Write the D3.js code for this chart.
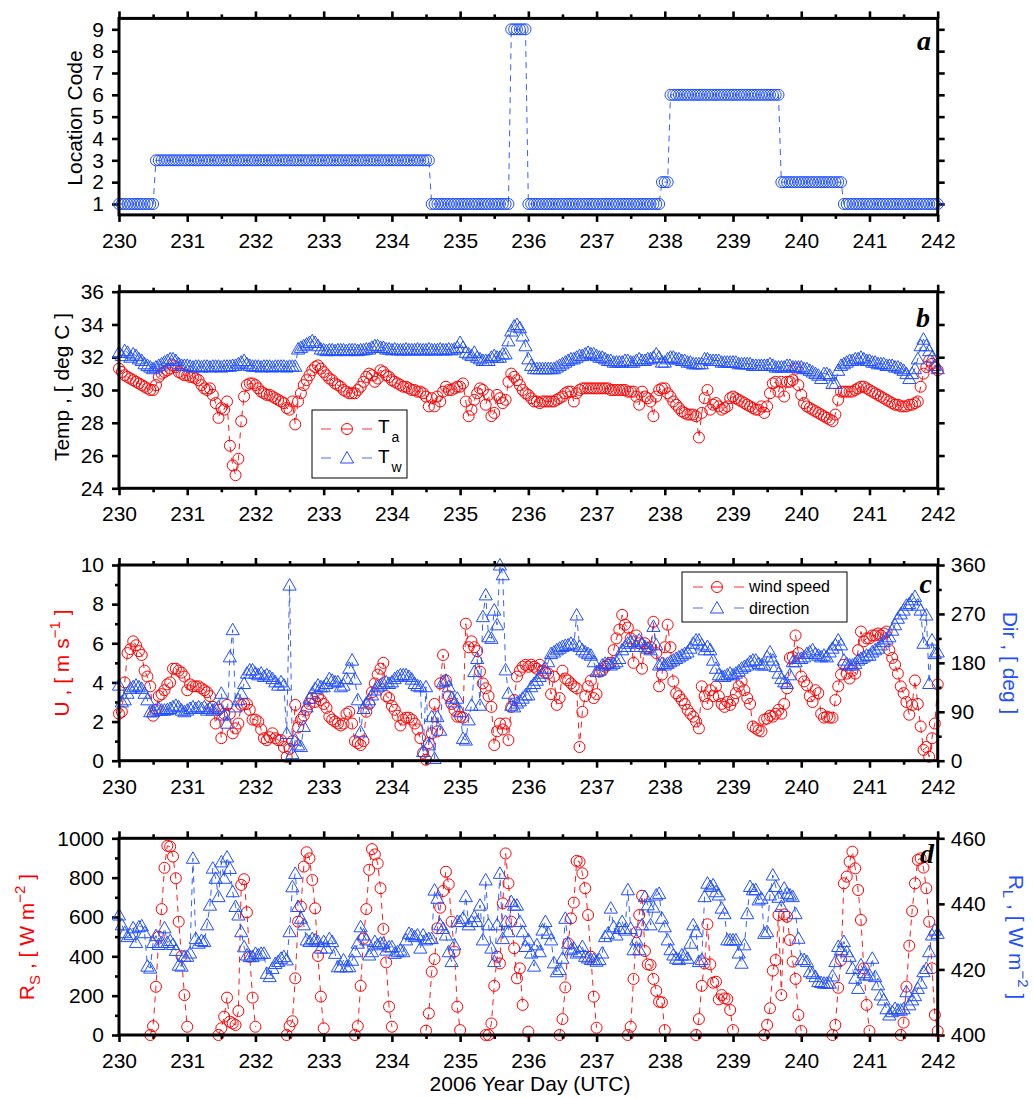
<!DOCTYPE html>
<html>
<head>
<meta charset="utf-8">
<script src="https://cdn.jsdelivr.net/npm/d3@7/dist/d3.min.js"></script>
<style>
  body { margin: 0; background: #fff; }
  svg { display: block; }
  text { font-family: "Liberation Sans", Arial, Helvetica, sans-serif; }
  text.panel-letter { font-family: "Liberation Serif", "Times New Roman", serif; }
</style>
</head>
<body>
<svg id="fig" width="1033" height="1098"></svg>
<script>
// ---------------------------------------------------------------
// Hourly ship observations, year days 230 - 242 (2006, UTC)
// ---------------------------------------------------------------
const dayFirst = 230;
const samplesPerDay = 24;
const _ = null; // no measurement

const dayTicks   = [230, 231, 232, 233, 234, 235, 236, 237, 238, 239, 240, 241, 242];
const locTicks   = [1, 2, 3, 4, 5, 6, 7, 8, 9];
const tempTicks  = [24, 26, 28, 30, 32, 34, 36];
const speedTicks = [0, 2, 4, 6, 8, 10];
const dirTicks   = [0, 90, 180, 270, 360];
const rsTicks    = [0, 200, 400, 600, 800, 1000];
const rlTicks    = [400, 420, 440, 460];

// location code: first hour (from day 230.0) of each stay and its code
const locRunFirstHour = [0, 13, 110, 138, 144, 191, 194, 233, 255];
const locRunCode      = [1, 3, 1, 9, 1, 2, 6, 2, 1];

// air temperature (deg C)
const airTemp = [
  31.3,31.1,30.9,30.8,30.7,30.6,30.5,30.4,30.3,30.2,30.1,30.0,30.0,30.3,30.8,31.0,31.1,31.2,31.3,31.5,31.4,31.1,31.0,30.9,
  30.9,30.8,30.8,30.7,30.6,30.3,30.1,30.0,30.1,29.7,29.2,28.3,28.9,28.8,29.3,26.6,25.4,24.8,25.8,28.1,29.6,30.3,30.4,30.4,
  30.3,30.1,29.9,29.8,29.7,29.7,29.6,29.5,29.4,29.3,29.2,28.9,28.8,29.3,27.9,29.3,29.8,30.3,30.6,30.9,31.2,31.4,31.5,31.3,
  31.1,30.9,30.7,30.6,30.4,30.3,30.2,30.0,29.9,29.8,29.8,29.8,30.0,30.2,30.5,30.8,31.0,30.9,30.5,30.7,31.2,31.1,30.9,30.8,
  30.6,30.5,30.4,30.3,30.2,30.2,30.1,30.0,30.0,29.9,29.9,29.8,29.6,29.0,29.5,29.0,29.6,29.3,29.9,30.2,30.0,30.0,30.1,30.2,
  30.2,30.4,29.3,28.4,28.8,29.4,29.8,30.1,30.0,29.1,29.7,28.4,28.6,29.7,29.5,29.2,29.4,30.5,31.0,30.8,30.6,30.3,30.0,29.8,
  29.7,29.5,29.3,29.3,29.2,29.3,29.3,29.3,29.3,29.3,29.4,29.5,29.6,29.8,29.9,29.9,29.3,29.8,30.0,30.1,30.1,30.1,30.1,30.1,
  30.1,30.1,30.1,30.1,30.1,30.0,30.0,30.0,30.0,30.0,30.0,29.9,29.9,29.9,29.6,29.1,29.9,29.6,29.5,29.3,28.4,29.6,30.0,30.1,
  30.1,29.8,29.6,29.3,29.1,28.9,28.7,28.6,28.5,28.5,28.5,28.4,27.1,28.6,29.5,30.0,28.8,29.1,29.2,29.0,28.8,28.9,29.0,29.5,
  29.6,29.5,29.4,29.3,29.2,29.1,29.0,28.9,28.8,28.8,29.0,28.6,29.0,29.8,30.4,30.5,29.9,30.5,29.6,30.5,30.5,30.6,31.3,30.3,
  29.7,29.2,29.0,28.9,28.8,28.7,28.6,28.5,28.4,28.3,28.2,28.1,28.5,29.4,29.9,29.9,29.9,29.9,29.9,30.0,30.1,30.2,30.2,30.1,
  30.0,29.9,29.8,29.7,29.6,29.5,29.4,29.3,29.2,29.1,29.1,29.0,29.0,29.0,29.1,29.1,29.2,29.3,30.2,31.0,31.4,31.8,31.6,31.4,
  31.2
];

// water temperature (deg C)
const waterTemp = [
  32.3,32.1,32.4,32.3,32.0,32.2,32.1,31.9,31.8,31.6,31.5,31.4,31.3,31.4,31.5,31.6,31.7,31.8,31.9,31.9,31.8,31.6,31.5,31.5,
  31.5,31.45,31.4,31.45,31.45,31.4,31.45,31.45,31.4,31.45,31.45,31.45,31.4,31.45,31.45,31.45,31.5,31.5,31.6,31.7,31.8,31.6,31.5,31.45,
  31.45,31.45,31.4,31.45,31.45,31.45,31.4,31.45,31.45,31.45,31.45,31.4,31.45,31.45,31.45,32.5,32.6,32.7,32.8,32.9,33.0,32.9,32.7,32.5,
  32.45,32.4,32.45,32.45,32.4,32.45,32.45,32.45,32.4,32.45,32.45,32.45,32.4,32.45,32.45,32.5,32.5,32.6,32.7,32.7,32.6,32.6,32.5,32.5,
  32.45,32.5,32.45,32.45,32.45,32.5,32.45,32.45,32.45,32.5,32.45,32.45,32.45,32.5,32.45,32.45,32.45,32.5,32.45,32.45,32.5,32.45,32.5,32.6,
  32.9,32.6,32.3,32.2,32.1,32.3,32.0,31.9,31.8,31.8,31.8,32.0,32.1,32.0,32.0,32.2,32.2,33.0,33.6,33.9,34.0,33.8,33.3,32.7,
  31.9,31.5,31.3,31.3,31.3,31.3,31.3,31.3,31.3,31.3,31.4,31.5,31.6,31.7,31.8,31.9,31.9,32.0,32.1,32.1,32.2,32.3,32.2,32.2,
  32.1,32.0,32.0,31.9,31.8,31.8,31.7,31.7,31.7,31.7,31.8,31.8,31.7,31.7,31.8,31.9,31.8,31.8,31.9,31.9,32.0,32.2,32.0,31.7,
  31.7,31.9,32.0,32.0,31.9,31.9,31.8,31.8,31.7,31.7,31.6,31.6,31.6,31.6,31.9,31.9,31.8,31.8,31.8,31.8,31.7,31.7,31.7,31.7,
  31.7,31.7,31.6,31.6,31.6,31.6,31.6,31.5,31.5,31.5,31.5,31.5,31.5,31.6,31.5,31.4,31.4,31.4,31.4,31.5,31.5,31.4,31.4,31.4,
  31.4,31.3,31.3,31.2,31.1,31.0,30.9,30.7,31.0,31.0,30.9,30.4,30.4,31.2,31.5,31.6,31.7,31.8,31.8,31.9,31.9,32.0,31.9,31.8,
  31.8,31.7,31.7,31.6,31.6,31.6,31.5,31.5,31.5,31.4,31.4,31.3,31.2,31.0,30.7,31.0,31.3,31.9,32.7,33.1,32.7,32.4,32.0,31.5,
  31.3
];

// wind speed (m/s)
const windSpeed = [
  2.4,2.5,4.0,5.5,5.7,6.1,5.9,5.6,5.4,4.6,4.3,3.8,2.3,2.6,3.3,3.4,3.6,3.9,4.0,4.7,4.7,4.6,4.5,4.3,
  3.6,3.9,3.8,3.8,3.8,3.7,3.6,3.5,3.3,2.75,1.9,2.6,1.15,2.4,2.85,2.4,1.4,1.65,1.9,2.85,2.9,2.9,2.6,2.1,
  2.1,2.0,1.6,1.15,1.05,1.2,1.4,1.15,1.05,1.05,0.7,0.2,0.6,1.0,2.85,1.7,2.1,2.3,2.6,2.9,3.2,3.0,3.3,3.1,
  2.9,2.7,2.25,2.1,2.0,1.9,1.8,1.9,2.4,2.5,1.9,1.0,0.9,0.8,1.0,2.5,2.9,3.5,3.95,4.4,4.7,5.0,3.3,3.2,
  2.8,2.6,2.3,1.8,2.1,2.2,2.2,2.1,1.9,1.6,1.15,0.4,0.05,0.9,1.4,2.9,1.5,3.95,5.4,4.1,3.3,2.9,2.6,2.25,
  2.25,2.2,7.0,5.8,6.1,5.8,5.6,4.55,3.95,3.7,3.3,2.75,0.8,1.5,1.9,1.6,1.9,1.05,2.75,3.1,4.3,4.6,4.8,4.9,
  4.8,4.9,4.8,4.7,4.9,4.6,4.5,4.45,3.4,4.3,2.85,3.2,4.6,4.2,4.1,3.95,3.8,3.7,0.7,2.5,3.3,3.8,4.1,3.2,
  3.4,4.55,4.6,4.8,4.9,5.0,5.65,6.25,6.7,7.45,6.95,6.8,6.25,5.0,6.4,6.0,4.7,6.0,5.75,5.8,7.1,5.5,3.8,4.4,
  5.8,6.95,5.8,4.05,3.45,3.3,3.1,2.9,2.6,2.4,2.25,2.0,1.65,3.8,3.3,2.9,3.6,3.3,3.8,3.3,2.9,2.75,3.0,2.85,
  3.1,3.45,3.8,4.05,3.6,3.2,2.9,1.75,1.65,1.55,1.5,2.1,2.15,2.3,2.25,2.4,2.6,2.4,2.9,3.7,5.25,5.3,6.4,5.5,
  4.3,4.05,3.85,3.3,3.0,3.6,3.45,2.4,2.2,2.25,2.2,2.2,3.1,3.8,4.4,4.9,4.45,4.2,4.6,4.45,5.65,6.6,6.1,6.25,
  6.25,6.4,6.4,6.5,6.4,6.5,6.6,5.65,5.25,4.9,4.45,3.8,3.45,3.0,2.35,2.85,4.1,2.9,1.75,0.55,0.7,0.2,1.15,1.9,
  3.9
];

// wind direction (deg)
const windDir = [
  139,108,112,124,133,136,139,136,133,124,112,90,90,93,96,93,93,94,96,99,102,99,93,90,
  93,96,99,96,99,96,99,93,96,93,96,99,124,84,69,191,241,99,112,124,142,161,167,167,
  161,158,161,155,158,155,151,145,139,145,139,50,323,13,38,29,26,63,99,115,124,133,139,136,
  136,142,151,148,145,145,136,139,151,170,185,150,112,53,96,106,112,121,130,136,139,142,145,142,
  145,151,155,158,158,158,155,150,142,138,136,17,136,29,81,4,81,56,145,148,136,115,108,115,
  90,41,38,75,102,164,188,102,265,305,228,225,277,250,360,342,167,124,102,99,106,110,115,121,
  121,136,142,148,155,161,170,182,197,200,204,207,210,212,213,216,213,268,210,204,200,197,194,182,
  164,167,176,179,179,176,179,182,188,204,210,216,219,219,210,222,216,210,207,204,247,213,176,179,
  176,179,182,185,188,191,194,197,200,207,216,222,222,213,204,210,204,185,170,158,155,155,158,161,
  158,161,165,170,173,176,182,185,185,179,176,176,191,200,185,173,161,151,145,142,158,182,182,188,
  188,191,197,200,204,197,194,191,194,191,200,207,213,222,213,185,179,176,176,179,185,188,191,194,
  194,200,204,207,213,219,224,228,240,250,262,270,277,286,289,296,302,286,277,216,268,142,222,197,
  200
];

// shortwave radiation (W m^-2), daylight hours only
const shortwave = [
  _,_,_,_,_,_,_,_,_,_,_,0,45,245,500,640,850,962,958,907,797,576,400,203,
  42,_,_,_,_,_,_,_,_,_,_,0,34,93,190,68,59,51,122,763,792,624,398,190,
  42,_,_,_,_,_,_,_,_,_,_,0,45,70,288,576,653,856,929,898,788,644,402,195,
  34,_,_,_,_,_,_,_,_,_,_,0,45,250,490,640,840,945,918,872,746,539,369,144,
  42,_,_,_,_,_,_,_,_,_,_,_,22,110,322,386,542,647,732,830,766,576,424,144,
  25,_,_,_,_,_,_,_,_,0,0,59,250,398,364,669,923,771,576,441,288,339,153,_,
  17,_,_,_,_,_,_,_,_,_,_,0,81,242,466,593,673,885,881,822,746,610,398,195,
  37,_,_,_,_,_,_,_,_,_,_,0,42,285,522,610,708,427,359,356,285,224,169,166,
  25,_,_,_,_,_,_,_,_,_,_,0,81,250,364,563,359,266,271,181,203,186,183,127,
  25,_,_,_,_,_,_,_,_,_,_,0,51,136,327,381,610,203,613,601,483,373,285,102,
  20,_,_,_,_,_,_,_,_,_,_,0,51,240,381,771,805,881,932,847,737,585,339,153,
  20,_,_,_,_,_,_,_,_,_,_,0,63,246,454,630,771,890,898,851,746,576,339,102,
  20
];

// longwave radiation (W m^-2)
const longwave = [
  436.6,433.6,431.2,430,430.6,432.7,428.2,433,433.3,431.2,421,420.4,428.2,430.3,427.6,428.2,432.7,428.2,428.8,427.6,425.8,421.3,421,424,
  424,425,453.9,429.4,428,428.8,428.5,433.6,439.6,450.9,447.8,442.2,452.8,447.8,454.3,450.8,443.7,439.2,436.6,431.5,426.9,424.4,423.9,423.9,
  424.9,424.4,424.9,424.9,418.8,417.8,420.3,421.8,422.4,423.4,423.9,422.9,431.5,445.2,449.3,439.2,435.6,433.6,429,428.5,429.4,429,428.5,426.5,
  428.5,426.5,429.4,428.5,424.9,420.8,420.8,422.9,420.8,420.8,422.8,425.4,428,433,430.5,429,424.4,425.4,428.5,427.5,428,428,425.9,426.9,
  426.9,424.9,425.4,425.9,425.4,429,431,430.6,430,430.5,426.5,430.5,429,429.4,429.4,444.2,441.7,433.6,432.5,430.5,425.4,422.4,427.5,434.6,
  434.6,435.6,442.2,433.6,434.6,436.1,434.6,439.6,429,447.3,433.6,426.5,422.4,433.6,449.3,429.4,434.6,431.5,440.7,439.6,439.6,434.6,431.5,427,
  429,425,421,427.5,425.4,432,434.6,431,429,422,419.3,420,423.4,435.6,428,426,426.5,425,425.4,427,424,423.5,423,423,
  422.5,423,425,430,431,438.7,433,430.5,432.5,434.6,432,444.3,432.5,426,429,426,433.6,442.2,439.7,433.6,439,442.7,443.2,435.6,
  433,429,426,424.4,423.4,423,424.4,424.4,423.4,428,433.6,431.5,422.4,423,442.2,446.3,445.3,445.8,443.7,442.7,438.7,437,429,429,
  429,429,425,421.9,427.5,437,445.3,444.3,444.3,441.2,441.7,431,431.5,442.7,448.8,445.3,442,439.2,444.8,443.2,442.7,442.2,437,429.5,
  423,423,422.4,419.3,418.8,417.8,416.3,416,415.8,415.8,415.8,418,422.4,427,426,428.5,425.4,424,420.3,417.3,414.2,421.4,419,418.3,
  418.3,423.4,417.8,415.3,412.2,410.7,408,406.1,407.1,408.1,407.6,407.6,408,413.2,409.2,410.7,412,414.2,415.8,419.3,420.3,425.4,430.5,432,
  431
];

// ---------------------------------------------------------------
const RED = "#ff0000";
const BLUE = "#1f4fff";
const FONT = 21;

const svg = d3.select("#fig");
const x = d3.scaleLinear().domain([dayTicks[0], dayTicks[dayTicks.length - 1]]).range([119, 937.7]);
const halfDays = dayTicks.slice(0, -1).map(d => d + 0.5);

const toSeries = vals => vals.map((v, i) => ({ t: dayFirst + i / samplesPerDay, v }));

// expand the location runs to one value per hour
const nHours = airTemp.length;
const locCode = [];
for (let h = 0; h < nHours; h++) {
  let k = 0;
  while (k + 1 < locRunFirstHour.length && locRunFirstHour[k + 1] <= h) k++;
  locCode.push(locRunCode[k]);
}

const triPath = "M0,-6.5L6.6,5L-6.6,5Z";

function styleAxis(g) {
  g.select(".domain").remove();
  g.selectAll(".tick line").attr("stroke", "#000").attr("stroke-width", 2.6);
  g.selectAll(".tick text").attr("fill", "#000").attr("font-size", FONT);
}

function panelFrame(y0, y1) {
  const g = svg.append("g");
  // top and bottom time axes, major and half-day ticks
  g.append("g").attr("transform", `translate(0,${y1})`)
    .call(d3.axisBottom(x).tickValues(dayTicks).tickSize(7).tickPadding(11).tickFormat(d3.format("d")))
    .call(styleAxis);
  g.append("g").attr("transform", `translate(0,${y1})`)
    .call(d3.axisBottom(x).tickValues(halfDays).tickSize(4).tickFormat(""))
    .call(styleAxis);
  g.append("g").attr("transform", `translate(0,${y0})`)
    .call(d3.axisTop(x).tickValues(dayTicks).tickSize(7).tickFormat(""))
    .call(styleAxis);
  g.append("g").attr("transform", `translate(0,${y0})`)
    .call(d3.axisTop(x).tickValues(halfDays).tickSize(4).tickFormat(""))
    .call(styleAxis);
  return g;
}

function leftAxis(scale, ticks, minor, labels) {
  const x0 = x.range()[0];
  svg.append("g").attr("transform", `translate(${x0},0)`)
    .call(d3.axisLeft(scale).tickValues(ticks).tickSize(7).tickPadding(8)
      .tickFormat(labels ? d3.format("d") : ""))
    .call(styleAxis);
  if (minor) svg.append("g").attr("transform", `translate(${x0},0)`)
    .call(d3.axisLeft(scale).tickValues(minor).tickSize(4).tickFormat(""))
    .call(styleAxis);
}

function rightAxis(scale, ticks, minor, labels) {
  const x1 = x.range()[1];
  svg.append("g").attr("transform", `translate(${x1},0)`)
    .call(d3.axisRight(scale).tickValues(ticks).tickSize(7).tickPadding(6)
      .tickFormat(labels ? d3.format("d") : ""))
    .call(styleAxis);
  if (minor) svg.append("g").attr("transform", `translate(${x1},0)`)
    .call(d3.axisRight(scale).tickValues(minor).tickSize(4).tickFormat(""))
    .call(styleAxis);
}

function box(y0, y1) {
  svg.append("rect").attr("x", x.range()[0]).attr("y", y0)
    .attr("width", x.range()[1] - x.range()[0]).attr("height", y1 - y0)
    .attr("fill", "none").attr("stroke", "#000").attr("stroke-width", 3);
}

function drawSeries(data, y, color, marker) {
  const g = svg.append("g");
  const line = d3.line().defined(d => d.v != null).x(d => x(d.t)).y(d => y(d.v));
  g.append("path").datum(data).attr("d", line)
    .attr("fill", "none").attr("stroke", color).attr("stroke-width", 1)
    .attr("stroke-dasharray", "6,5").attr("opacity", 0.9);
  const pts = data.filter(d => d.v != null);
  if (marker === "circle") {
    g.selectAll("circle").data(pts).join("circle")
      .attr("cx", d => x(d.t)).attr("cy", d => y(d.v)).attr("r", 5.5)
      .attr("fill", "none").attr("stroke", color).attr("stroke-width", 1);
  } else {
    g.selectAll("path.m").data(pts).join("path").attr("class", "m")
      .attr("d", triPath).attr("transform", d => `translate(${x(d.t)},${y(d.v)})`)
      .attr("fill", "none").attr("stroke", color).attr("stroke-width", 1);
  }
}

function panelLetter(letter, xr, yb) {
  svg.append("text").attr("class", "panel-letter")
    .attr("x", xr).attr("y", yb).attr("text-anchor", "end")
    .style("font-style", "italic").style("font-weight", "bold").attr("font-size", 28)
    .text(letter);
}

function vLabel(xb, yc, angle, color, parts) {
  const t = svg.append("text")
    .attr("transform", `translate(${xb},${yc}) rotate(${angle})`)
    .attr("text-anchor", "middle").attr("font-size", FONT).attr("fill", color);
  let shift = 0;
  parts.forEach(p => {
    const s = t.append("tspan").text(p.text);
    const target = p.sub ? 6 : p.sup ? -9 : 0;
    s.attr("dy", target - shift);
    if (p.sub || p.sup) s.attr("font-size", 15);
    shift = target;
  });
}

function legendRow(xs, yc, color, marker) {
  const [l0, l1, mx, r0, r1] = xs;
  svg.append("line").attr("x1", l0).attr("x2", l1).attr("y1", yc).attr("y2", yc)
    .attr("stroke", color).attr("stroke-width", 1).attr("opacity", 0.8);
  svg.append("line").attr("x1", r0).attr("x2", r1).attr("y1", yc).attr("y2", yc)
    .attr("stroke", color).attr("stroke-width", 1).attr("opacity", 0.8);
  if (marker === "circle") {
    svg.append("circle").attr("cx", mx).attr("cy", yc).attr("r", 5.5)
      .attr("fill", "none").attr("stroke", color).attr("stroke-width", 1);
    svg.append("line").attr("x1", mx - 5).attr("x2", mx + 5).attr("y1", yc).attr("y2", yc)
      .attr("stroke", color).attr("stroke-width", 1);
  } else {
    svg.append("path").attr("d", triPath).attr("transform", `translate(${mx},${yc})`)
      .attr("fill", "none").attr("stroke", color).attr("stroke-width", 1);
  }
}

// ---------------- panel a : location code ----------------
const yA = d3.scaleLinear().domain([0.5, 9.5]).range([214.9, 18.4]);
panelFrame(yA.range()[1], yA.range()[0]);
leftAxis(yA, locTicks, null, true);
rightAxis(yA, locTicks, null, false);
drawSeries(toSeries(locCode), yA, BLUE, "circle");
box(yA.range()[1], yA.range()[0]);
panelLetter("a", 931, 50);
vLabel(82, 118, -90, "#000", [{ text: "Location Code" }]);

// ---------------- panel b : temperatures ----------------
const yB = d3.scaleLinear().domain([24, 36]).range([488.3, 291.7]);
panelFrame(yB.range()[1], yB.range()[0]);
leftAxis(yB, tempTicks, null, true);
rightAxis(yB, tempTicks, null, false);
drawSeries(toSeries(airTemp), yB, RED, "circle");
drawSeries(toSeries(waterTemp), yB, BLUE, "triangle");
box(yB.range()[1], yB.range()[0]);
panelLetter("b", 930, 327);
vLabel(69, 387, -90, "#000", [{ text: "Temp , [ deg C ]" }]);

svg.append("rect").attr("x", 312).attr("y", 410).attr("width", 95).attr("height", 68)
  .attr("fill", "#fff").attr("stroke", "#000").attr("stroke-width", 1);
legendRow([321, 331, 347, 362, 372], 429, RED, "circle");
legendRow([321, 331, 347, 362, 372], 458, BLUE, "triangle");
[["T", "a", 433], ["T", "w", 463]].forEach(([m, s, yb]) => {
  const t = svg.append("text").attr("x", 378).attr("y", yb).attr("font-size", 19).attr("fill", "#000");
  t.append("tspan").text(m);
  t.append("tspan").attr("dx", 2).attr("dy", 9).attr("font-size", 14).text(s);
});

// ---------------- panel c : wind ----------------
const yC = d3.scaleLinear().domain([speedTicks[0], speedTicks[speedTicks.length - 1]]).range([760.7, 565]);
const yCdir = d3.scaleLinear().domain([dirTicks[0], dirTicks[dirTicks.length - 1]]).range([760.7, 565]);
panelFrame(yC.range()[1], yC.range()[0]);
leftAxis(yC, speedTicks, [1, 3, 5, 7, 9], true);
rightAxis(yCdir, dirTicks, [45, 135, 225, 315], true);
drawSeries(toSeries(windSpeed), yC, RED, "circle");
drawSeries(toSeries(windDir), yCdir, BLUE, "triangle");
box(yC.range()[1], yC.range()[0]);
panelLetter("c", 932, 593);
vLabel(69, 663, -90, RED, [{ text: "U , [ m s" }, { text: "−1", sup: true }, { text: " ]" }]);
vLabel(1003, 663, 90, BLUE, [{ text: "Dir , [ deg ]" }]);

svg.append("rect").attr("x", 682).attr("y", 572).attr("width", 165).attr("height", 50)
  .attr("fill", "#fff").attr("stroke", "#000").attr("stroke-width", 1);
legendRow([693, 703, 717, 734, 744], 587, RED, "circle");
legendRow([693, 703, 717, 734, 744], 608, BLUE, "triangle");
svg.append("text").attr("x", 749).attr("y", 592).attr("font-size", 16).attr("fill", "#000").text("wind speed");
svg.append("text").attr("x", 749).attr("y", 614).attr("font-size", 16).attr("fill", "#000").text("direction");

// ---------------- panel d : radiation ----------------
const yD = d3.scaleLinear().domain([rsTicks[0], rsTicks[rsTicks.length - 1]]).range([1035, 838.3]);
const yDlw = d3.scaleLinear().domain([rlTicks[0], rlTicks[rlTicks.length - 1]]).range([1035, 838.3]);
panelFrame(yD.range()[1], yD.range()[0]);
leftAxis(yD, rsTicks, [100, 300, 500, 700, 900], true);
rightAxis(yDlw, rlTicks, null, true);
drawSeries(toSeries(shortwave), yD, RED, "circle");
drawSeries(toSeries(longwave), yDlw, BLUE, "triangle");
box(yD.range()[1], yD.range()[0]);
panelLetter("d", 934, 863);
vLabel(34, 937, -90, RED, [{ text: "R" }, { text: "S", sub: true }, { text: " , [ W m" }, { text: "−2", sup: true }, { text: " ]" }]);
vLabel(1009, 937, 90, BLUE, [{ text: "R" }, { text: "L", sub: true }, { text: " , [ W m" }, { text: "−2", sup: true }, { text: " ]" }]);

svg.append("text").attr("x", 530).attr("y", 1091).attr("text-anchor", "middle")
  .attr("font-size", FONT).attr("fill", "#000").text("2006 Year Day (UTC)");
</script>
</body>
</html>
